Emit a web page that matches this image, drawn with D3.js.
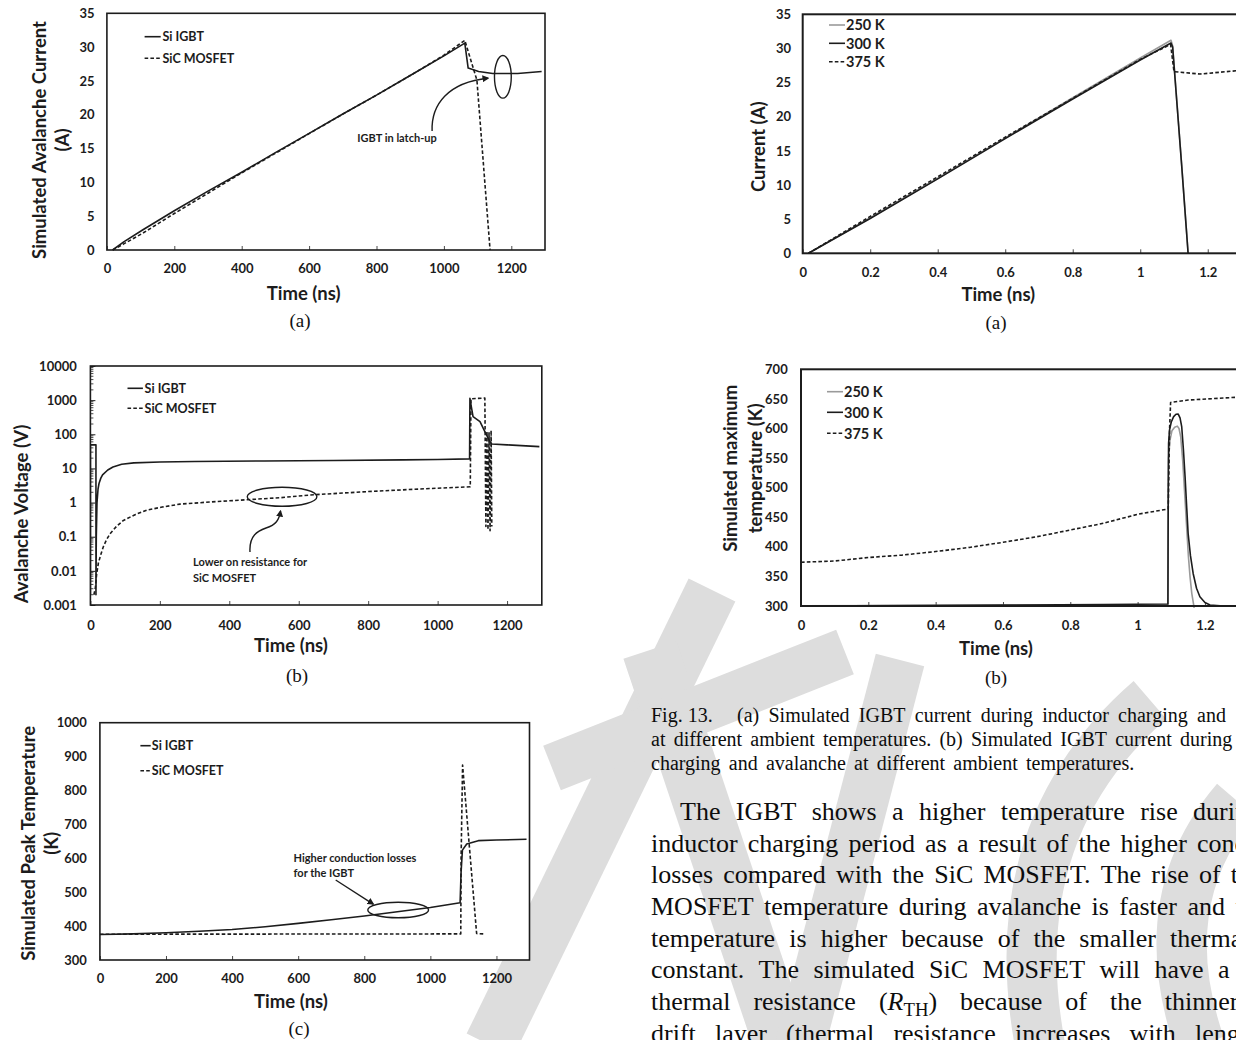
<!DOCTYPE html>
<html>
<head>
<meta charset="utf-8">
<script src="https://cdn.jsdelivr.net/npm/d3@7"></script>
<style>
  html, body { margin: 0; padding: 0; background: #fff; }
  svg { display: block; }
</style>
</head>
<body>
<script>
// ---------------- tick values ----------------
const timeTicksNs    = [0, 200, 400, 600, 800, 1000, 1200];
const timeTicksShort = [0, 0.2, 0.4, 0.6, 0.8, 1, 1.2];
const currentTicks   = [0, 5, 10, 15, 20, 25, 30, 35];
const voltageTicks   = [0.001, 0.01, 0.1, 1, 10, 100, 1000, 10000];
const peakTempTicks  = [300, 400, 500, 600, 700, 800, 900, 1000];
const maxTempTicks   = [300, 350, 400, 450, 500, 550, 600, 650, 700];

// ---------------- series names ----------------
const deviceNames  = ["Si IGBT", "SiC MOSFET"];
const ambientNames = ["250 K", "300 K", "375 K"];

// ---------------- Fig. 12(a): avalanche current [ns, A] ----------------
const igbtCurrent = [[17,0],[50,1.2],[107,3.0],[200,5.8],[300,8.7],[400,11.5],[500,14.4],[600,17.25],
  [700,20.1],[800,22.9],[900,25.8],[1000,28.7],[1062,30.6],[1072,26.9],[1103,26.4],[1145,26.1],
  [1219,26.1],[1290,26.4]];
const sicCurrent = [[17,0],[50,0.9],[107,2.5],[200,5.4],[300,8.4],[400,11.4],[500,14.3],[600,17.2],
  [700,20.1],[800,22.9],[900,25.8],[1000,28.8],[1062,31.0],[1098,25.1],[1137,0]];

// ---------------- Fig. 12(b): avalanche voltage [ns, V] ----------------
const igbtVoltage = [[0,0.002],[0,49],[16,49],[16,0.002],[17,0.1],[19,1],[22,2.5],[25,3.7],[30,5.2],
  [35,6.5],[50,9],[65,11],[90,13.2],[125,14.5],[200,15.5],[300,16],[500,16.5],[700,17],[900,17.8],
  [1000,18.3],[1092,19],[1093,1130],[1097,645],[1102,330],[1122,234],[1136,120],[1151,60],
  [1156,52],[1200,49],[1293,43.6]];
const sicVoltage = [[10,0.002],[14,0.003],[18,0.008],[23,0.017],[30,0.03],[37,0.05],[46,0.08],
  [56,0.12],[75,0.2],[95,0.3],[130,0.45],[162,0.6],[210,0.75],[258,0.9],[350,1.05],[446,1.2],
  [550,1.4],[645,1.7],[800,2.1],[950,2.5],[1094,2.9],[1096,1100],[1136,1150],[1139,0.2],
  [1142,125],[1145,0.16],[1148,110],[1151,0.15],[1154,130],[1156,0.2]];

// ---------------- Fig. 12(c): peak temperature [ns, K] ----------------
const igbtTemp = [[0,375],[100,377],[200,380.5],[300,385],[400,390],[500,398],[600,408],[700,418.5],
  [800,430],[900,442.5],[1000,455],[1090,469],[1093,560],[1097,624],[1110,642],[1145,652],
  [1200,654],[1291,656]];
const sicTemp = [[0,376],[1092,377],[1093,600],[1097.5,875],[1140,378],[1160,377]];

// ---------------- Fig. 13(a): current vs ambient [time, A] ----------------
const current250 = [[0.017,0],[0.2,5.2],[0.4,11.0],[0.6,16.9],[0.8,22.8],[1.0,28.6],[1.091,31.2],
  [1.096,30.4],[1.108,22.6],[1.123,12.8],[1.136,4.0],[1.142,0]];
const current300 = [[0.017,0],[0.2,5.1],[0.4,10.9],[0.6,16.8],[0.8,22.6],[1.0,28.3],[1.091,30.8],
  [1.096,30.2],[1.108,22.4],[1.123,12.7],[1.136,3.9],[1.1417,0]];
const current375 = [[0.017,0],[0.2,5.4],[0.4,11.2],[0.6,17.0],[0.8,22.7],[1.0,28.4],[1.09,30.6],
  [1.1,26.6],[1.177,26.25],[1.3,26.8]];

// ---------------- Fig. 13(b): maximum temperature vs ambient [time, K] ----------------
const tmax250 = [[0,300.4],[0.6,301],[1.09,301.8],[1.0905,420],[1.091,500],[1.092,550],[1.096,580],
  [1.102,596],[1.11,602],[1.118,604],[1.123,600],[1.128,586],[1.134,545],[1.141,479],[1.146,430],
  [1.151,383],[1.156,348],[1.161,321],[1.168,297]];
const tmax300 = [[0,300],[0.3,300.7],[0.6,301.5],[0.9,302.5],[1.09,303.4],[1.0905,400],[1.091,480],
  [1.0915,540],[1.092,575],[1.095,598],[1.1,611],[1.107,620],[1.114,624],[1.1206,624.4],[1.126,618],
  [1.131,603],[1.136,565],[1.141,518.5],[1.146,465],[1.15,423],[1.157,385],[1.165,355],[1.175,330],
  [1.185,315.7],[1.2,306],[1.215,301.7],[1.245,300.5],[1.3,300.2]];
const tmax375 = [[0,374],[0.1,376],[0.2,382],[0.3,386],[0.4,392],[0.5,399],[0.6,407.6],[0.7,417],
  [0.8,428.4],[0.9,440],[1.0,455],[1.091,464],[1.095,600],[1.098,644],[1.15,648],[1.292,652.7]];

// ---------------- page text ----------------
const captionHead = "Fig. 13.";
const captionLines = [
  ["(a)","Simulated","IGBT","current","during","inductor","charging","and"],
  ["at","different","ambient","temperatures.","(b)","Simulated","IGBT","current","during"],
  ["charging","and","avalanche","at","different","ambient","temperatures."]
];
const bodyLines = [
  ["The","IGBT","shows","a","higher","temperature","rise","during"],
  ["inductor","charging","period","as","a","result","of","the","higher","conduction"],
  ["losses","compared","with","the","SiC","MOSFET.","The","rise","of","the"],
  ["MOSFET","temperature","during","avalanche","is","faster","and","the"],
  ["temperature","is","higher","because","of","the","smaller","thermal"],
  ["constant.","The","simulated","SiC","MOSFET","will","have","a","smaller"],
  ["thermal","resistance","(R_TH)","because","of","the","thinner","epitaxial"],
  ["drift","layer","(thermal","resistance","increases","with","length"]
];

// ---------------- drawing ----------------
const W = 1236, H = 1040;
const ink = "#1c1c1c";
const sans = "Lato, 'Open Sans', sans-serif";
const serif = "'Liberation Serif', 'DejaVu Serif', serif";
const dashed = "3.6,2.2";

const svg = d3.select("body").append("svg")
  .attr("width", W).attr("height", H).attr("viewBox", `0 0 ${W} ${H}`);
svg.append("rect").attr("width", W).attr("height", H).attr("fill", "#fff");
const defs = svg.append("defs");
defs.append("marker").attr("id", "arrowhead")
  .attr("viewBox", "0 0 10 10").attr("refX", 8).attr("refY", 5)
  .attr("markerWidth", 7).attr("markerHeight", 7).attr("orient", "auto-start-reverse")
  .attr("markerUnits", "userSpaceOnUse")
  .append("path").attr("d", "M0,0 L10,5 L0,10 z").attr("fill", ink);

// light background watermark bands
const wm = svg.append("g").attr("fill", "none").attr("stroke", "#dddddd").attr("stroke-linecap", "butt");
const wmBands = [
  [[712, 590], [490, 1045], 52],
  [[650, 650], [782, 1045], 56],
  [[845, 652], [552, 768], 48],
  [[900, 660], [800, 1045], 50]
];
wmBands.forEach(([a, b, w]) => {
  wm.append("line").attr("x1", a[0]).attr("y1", a[1]).attr("x2", b[0]).attr("y2", b[1]).attr("stroke-width", w);
});
wm.append("path").attr("d", "M1150,700 Q1000,830 1040,1045").attr("stroke-width", 50);
wm.append("path").attr("d", "M1236,800 Q1150,900 1200,1045").attr("stroke-width", 50);

function panel(p) {
  const b = p.box;
  const x = d3.scaleLinear().domain(p.xDomain).range([b.l, b.r]);
  const y = (p.log ? d3.scaleLog() : d3.scaleLinear()).domain(p.yDomain).range([b.b, b.t]);
  const g = svg.append("g");
  const cid = "clip-" + p.id;
  defs.append("clipPath").attr("id", cid).append("rect")
    .attr("x", b.l).attr("y", b.t - 2).attr("width", b.r - b.l).attr("height", b.b - b.t + 4);

  // plot area background
  g.append("rect").attr("x", b.l).attr("y", b.t).attr("width", b.r - b.l).attr("height", b.b - b.t)
    .attr("fill", "#fff");

  // minor ticks on log axis
  if (p.log) {
    const minors = [];
    for (let e = -3; e < 4; e++) for (let k = 2; k < 10; k++) minors.push(k * Math.pow(10, e));
    g.append("g").selectAll("line").data(minors).join("line")
      .attr("x1", b.l).attr("x2", b.l + 3)
      .attr("y1", d => y(d)).attr("y2", d => y(d))
      .attr("stroke", ink).attr("stroke-width", 0.8);
  }

  const ya = g.append("g").attr("transform", `translate(${b.l},0)`)
    .call(d3.axisLeft(y).tickValues(p.yTicks).tickFormat(p.yFmt)
      .tickSizeInner(p.log ? -5 : 0).tickSizeOuter(0).tickPadding(p.yPad));
  ya.select(".domain").remove();
  ya.attr("color", ink).attr("font-family", sans).attr("font-weight", 700).attr("font-size", p.tickFs);

  const xa = g.append("g").attr("transform", `translate(0,${b.b})`)
    .call(d3.axisBottom(x).tickValues(p.xTicks).tickFormat(p.xFmt)
      .tickSizeInner(-4).tickSizeOuter(0).tickPadding(p.xPad));
  xa.select(".domain").remove();
  xa.attr("color", ink).attr("font-family", sans).attr("font-weight", 700).attr("font-size", p.tickFs);
  xa.selectAll(".tick line").attr("stroke-width", 0.8);

  // data lines
  const line = d3.line().x(d => x(d[0])).y(d => y(d[1]));
  const lines = g.append("g").attr("clip-path", `url(#${cid})`);
  p.series.forEach(s => {
    lines.append("path").attr("d", line(s.data)).attr("fill", "none")
      .attr("stroke", s.color || ink).attr("stroke-width", s.width || 1.6)
      .attr("stroke-dasharray", s.dash || null).attr("stroke-linejoin", "round");
  });

  // frame
  g.append("rect").attr("x", b.l).attr("y", b.t).attr("width", b.r - b.l).attr("height", b.b - b.t)
    .attr("fill", "none").attr("stroke", ink).attr("stroke-width", p.frameW || 1.6);

  // legend
  const lg = p.legend;
  p.series.forEach((s, i) => {
    g.append("line").attr("x1", lg.x1).attr("x2", lg.x2).attr("y1", lg.ys[i]).attr("y2", lg.ys[i])
      .attr("stroke", s.color || ink).attr("stroke-width", s.width || 1.6)
      .attr("stroke-dasharray", s.dash || null);
    g.append("text").attr("x", lg.tx).attr("y", lg.ys[i]).attr("dy", "0.36em")
      .attr("font-family", sans).attr("font-weight", 700).attr("font-size", lg.fs)
      .attr("fill", ink).text(s.name);
  });

  // axis titles
  g.append("text").attr("x", p.xTitle[0]).attr("y", p.xTitle[1]).attr("dy", "0.36em")
    .attr("text-anchor", "middle").attr("font-family", sans).attr("font-weight", 700)
    .attr("font-size", p.titleFs).attr("fill", ink).text("Time (ns)");
  p.yTitle.lines.forEach(([t, tx]) => {
    g.append("text").attr("transform", `translate(${tx},${p.yTitle.cy}) rotate(-90)`)
      .attr("dy", "0.36em").attr("text-anchor", "middle").attr("font-family", sans)
      .attr("font-weight", 700).attr("font-size", p.titleFs).attr("fill", ink).text(t);
  });

  // sub-figure label
  g.append("text").attr("x", p.sub[0]).attr("y", p.sub[1]).attr("dy", "0.35em")
    .attr("text-anchor", "middle").attr("font-family", serif).attr("font-size", 19)
    .attr("fill", "#111").text(p.sub[2]);

  if (p.notes) p.notes(g, x, y);
}

function ellipse(g, cx, cy, rx, ry) {
  g.append("ellipse").attr("cx", cx).attr("cy", cy).attr("rx", rx).attr("ry", ry)
    .attr("fill", "none").attr("stroke", ink).attr("stroke-width", 1.4);
}
function noteText(g, px, py, t, anchor) {
  g.append("text").attr("x", px).attr("y", py).attr("dy", "0.36em")
    .attr("text-anchor", anchor || "start").attr("font-family", sans).attr("font-weight", 700)
    .attr("font-size", 11).attr("fill", ink).text(t);
}
function arrow(g, d) {
  g.append("path").attr("d", d).attr("fill", "none").attr("stroke", ink)
    .attr("stroke-width", 1.4).attr("marker-end", "url(#arrowhead)");
}

const fmtLog = d => d >= 1 ? d3.format("d")(d) : String(d);
const fmtInt = d3.format("d");
const fmtShort = d3.format("~g");

// Fig. 12(a)
panel({
  id: "a12", box: {l: 106.9, r: 545, t: 13.3, b: 250},
  xDomain: [0, 1300], yDomain: [0, 35], xTicks: timeTicksNs, yTicks: currentTicks,
  xFmt: fmtInt, yFmt: fmtInt, tickFs: 13, titleFs: 18.5, yPad: 12.3, xPad: 13.5,
  series: [
    {name: deviceNames[0], data: igbtCurrent},
    {name: deviceNames[1], data: sicCurrent, dash: dashed}
  ],
  legend: {x1: 144.6, x2: 160.7, tx: 162.5, ys: [36.7, 58.3], fs: 12.5},
  xTitle: [303.6, 293],
  yTitle: {cy: 140, lines: [["Simulated Avalanche Current", 39], ["(A)", 62.5]]},
  sub: [300, 320, "(a)"],
  notes: (g, x, y) => {
    ellipse(g, x(1175), y(25.6), 8.4, 21.3);
    noteText(g, x(861), y(16.5), "IGBT in latch-up", "middle");
    arrow(g, `M${x(965)},${y(17.6)} C${x(962)},${y(21.5)} ${x(1012)},${y(24.8)} ${x(1131)},${y(25.4)}`);
  }
});

// Fig. 12(b)
panel({
  id: "b12", box: {l: 90.4, r: 541.8, t: 366, b: 605}, log: true,
  xDomain: [0, 1300], yDomain: [0.001, 10000], xTicks: timeTicksNs, yTicks: voltageTicks,
  xFmt: fmtInt, yFmt: fmtLog, tickFs: 13, titleFs: 18.5, yPad: 13.6, xPad: 15.3,
  series: [
    {name: deviceNames[0], data: igbtVoltage},
    {name: deviceNames[1], data: sicVoltage, dash: dashed}
  ],
  legend: {x1: 127.5, x2: 142.9, tx: 144.6, ys: [388.3, 408.3], fs: 12.5},
  xTitle: [291, 645],
  yTitle: {cy: 514, lines: [["Avalanche Voltage (V)", 21.4]]},
  sub: [297, 675, "(b)"],
  notes: (g, x, y) => {
    ellipse(g, x(552), y(1.48), 34.8, 9.5);
    noteText(g, x(295.5), y(0.018), "Lower on resistance for");
    noteText(g, x(295.5), y(0.0062), "SiC MOSFET");
    arrow(g, `M${x(459.6)},${y(0.0356)} C${x(456.8)},${y(0.112)} ${x(482.7)},${y(0.147)} ${x(505.8)},${y(0.18)}` +
             ` C${x(534.6)},${y(0.22)} ${x(543.2)},${y(0.31)} ${x(547.5)},${y(0.566)}`);
  }
});

// Fig. 12(c)
panel({
  id: "c12", box: {l: 99.9, r: 529.5, t: 722.7, b: 960},
  xDomain: [0, 1300], yDomain: [300, 1000], xTicks: timeTicksNs, yTicks: peakTempTicks,
  xFmt: fmtInt, yFmt: fmtInt, tickFs: 13, titleFs: 18.5, yPad: 13, xPad: 13.5,
  series: [
    {name: deviceNames[0], data: igbtTemp},
    {name: deviceNames[1], data: sicTemp, dash: dashed}
  ],
  legend: {x1: 140.4, x2: 150.7, tx: 151.8, ys: [745.7, 770.7], fs: 12.5},
  xTitle: [291, 1001.7],
  yTitle: {cy: 843.3, lines: [["Simulated Peak Temperature", 28.6], ["(K)", 51.8]]},
  sub: [299, 1028, "(c)"],
  notes: (g, x, y) => {
    ellipse(g, x(902.6), y(447.5), 30.4, 7.8);
    noteText(g, x(586), y(600), "Higher conduction losses");
    noteText(g, x(586), y(555.8), "for the IGBT");
    arrow(g, `M${x(713.5)},${y(536)} L${x(827)},${y(465)}`);
  }
});

// Fig. 13(a)
panel({
  id: "a13", box: {l: 802.7, r: 1241.5, t: 14.3, b: 253.3}, frameW: 2,
  xDomain: [0, 1.3], yDomain: [0, 35], xTicks: timeTicksShort, yTicks: currentTicks,
  xFmt: fmtShort, yFmt: fmtInt, tickFs: 13, titleFs: 18.5, yPad: 11.7, xPad: 14.5,
  series: [
    {name: ambientNames[0], data: current250, color: "#9a9a9a"},
    {name: ambientNames[1], data: current300},
    {name: ambientNames[2], data: current375, dash: dashed}
  ],
  legend: {x1: 829, x2: 845, tx: 846, ys: [25, 43.3, 61.7], fs: 14.5},
  xTitle: [998.3, 294.3],
  yTitle: {cy: 146.7, lines: [["Current (A)", 758]]},
  sub: [996, 322.7, "(a)"]
});

// Fig. 13(b)
panel({
  id: "b13", box: {l: 801, r: 1238.6, t: 369.3, b: 606}, frameW: 2,
  xDomain: [0, 1.3], yDomain: [300, 700], xTicks: timeTicksShort, yTicks: maxTempTicks,
  xFmt: fmtShort, yFmt: fmtInt, tickFs: 13, titleFs: 18.5, yPad: 13.3, xPad: 15,
  series: [
    {name: ambientNames[0], data: tmax250, color: "#9a9a9a"},
    {name: ambientNames[1], data: tmax300},
    {name: ambientNames[2], data: tmax375, dash: dashed}
  ],
  legend: {x1: 827, x2: 843, tx: 844, ys: [391.7, 412.3, 433.3], fs: 14.5},
  xTitle: [996, 648.3],
  yTitle: {cy: 468.3, lines: [["Simulated maximum", 730], ["temperature (K)", 755]]},
  sub: [996, 677.7, "(b)"]
});

// ---------------- justified page text ----------------
function wordNode(g, w, fs) {
  const t = g.append("text").attr("font-family", serif).attr("font-size", fs).attr("fill", "#0d0d0d");
  if (w === "(R_TH)") {
    t.append("tspan").text("(");
    t.append("tspan").attr("font-style", "italic").text("R");
    t.append("tspan").attr("font-size", fs * 0.72).attr("dy", fs * 0.22).text("TH");
    t.append("tspan").attr("dy", -fs * 0.22).text(")");
  } else {
    t.text(w);
  }
  return t;
}
function setLine(g, words, x0, yb, fs, anchorIdx, anchorX) {
  const nodes = words.map(w => wordNode(g, w, fs).attr("y", yb));
  const widths = nodes.map(n => n.node().getComputedTextLength());
  const before = d3.sum(widths.slice(0, anchorIdx));
  const gap = (anchorX - x0 - before) / anchorIdx;
  let cx = x0;
  nodes.forEach((n, i) => { n.attr("x", cx); cx += widths[i] + gap; });
}

const textG = svg.append("g");
wordNode(textG, captionHead, 20).attr("x", 651).attr("y", 721.7);
const capAnchors = [[737, 7, 1197], [651, 8, 1180], [651, 6, 1026]];
captionLines.forEach((ws, i) => {
  const [x0, ai, ax] = capAnchors[i];
  setLine(textG, ws, x0, 721.7 + i * 24.2, 20, ai, ax);
});
const bodyAnchors = [[680, 7, 1193], [651, 9, 1197], [651, 8, 1199], [651, 6, 1187.5],
                     [651, 7, 1170], [651, 7, 1218], [651, 6, 1164.7], [651, 6, 1195]];
bodyLines.forEach((ws, i) => {
  const [x0, ai, ax] = bodyAnchors[i];
  setLine(textG, ws, x0, 820 + i * 31.65, 26, ai, ax);
});
</script>
</body>
</html>
